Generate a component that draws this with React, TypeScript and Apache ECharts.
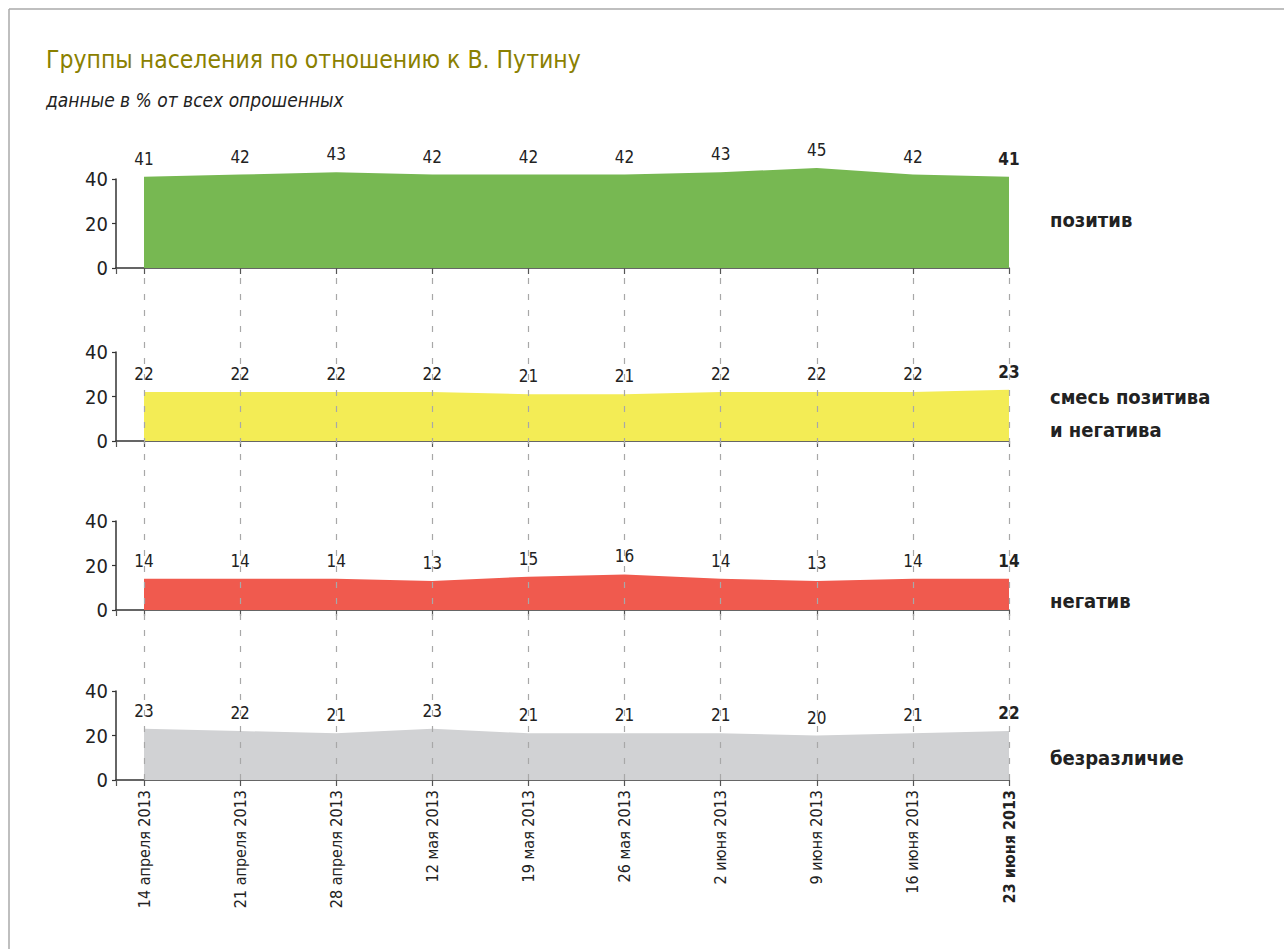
import React, { useEffect, useRef } from "react";
import * as echarts from "echarts";

const dates = [
  "14 апреля 2013", "21 апреля 2013", "28 апреля 2013", "12 мая 2013", "19 мая 2013",
  "26 мая 2013", "2 июня 2013", "9 июня 2013", "16 июня 2013", "23 июня 2013",
];
const positive = [41, 42, 43, 42, 42, 42, 43, 45, 42, 41];
const mixed = [22, 22, 22, 22, 21, 21, 22, 22, 22, 23];
const negative = [14, 14, 14, 13, 15, 16, 14, 13, 14, 14];
const indifferent = [23, 22, 21, 23, 21, 21, 21, 20, 21, 22];
const groupNames = ["позитив", "смесь позитива\nи негатива", "негатив", "безразличие"];
const yTicks = [0, 20, 40];

const TITLE = "Группы населения по отношению к В. Путину";
const SUBTITLE = "данные в % от всех опрошенных";

const NARROW = '"Liberation Sans Narrow", "DejaVu Sans Condensed", "Roboto Condensed", Arial Narrow, sans-serif';
const COLORS = ["#77b852", "#f3ec55", "#f05a4e", "#d1d2d4"];
const XMIN = -0.2914;
const XMAX = 9;

export default function App() {
  const ref = useRef<HTMLDivElement>(null);
  useEffect(() => {
    if (!ref.current) return;
    const chart = echarts.init(ref.current, undefined, { renderer: "svg" });
    const series = [positive, mixed, negative, indifferent];
    const tops = [179, 352, 521, 691];
    const H = 89;
    const idx = dates.map((_, i) => i);

    const grids: any[] = tops.map((t) => ({ left: 116, top: t, width: 893, height: H }));
    grids.push({ left: 116, top: 272, width: 893, height: 508 });

    const xAxes: any[] = tops.map((_, gi) => ({
      type: "value",
      gridIndex: gi,
      min: XMIN,
      max: XMAX,
      axisLine: { show: true, onZero: false, lineStyle: { color: "#333", width: 1.5 } },
      axisTick: { show: true, customValues: [XMIN, ...idx], length: 6, lineStyle: { color: "#555", width: 1.2 } },
      splitLine: { show: false },
      axisLabel: {
        show: gi === 3,
        customValues: idx,
        rotate: 90,
        margin: 10,
        fontSize: 16,
        fontFamily: NARROW,
        color: "#222",
        formatter: (v: number) => {
          const i = Math.round(v);
          return i === dates.length - 1 ? `{b|${dates[i]}}` : dates[i];
        },
        rich: { b: { fontWeight: "bold", fontSize: 16, fontFamily: NARROW, color: "#222" } },
      },
    }));
    xAxes.push({ type: "value", gridIndex: 4, min: XMIN, max: XMAX, show: false });

    const yAxes: any[] = tops.map((_, gi) => ({
      type: "value",
      gridIndex: gi,
      min: yTicks[0],
      max: yTicks[yTicks.length - 1],
      interval: 20,
      axisLine: { show: true, onZero: false, lineStyle: { color: "#333", width: 1.5 } },
      axisTick: { show: true, inside: false, length: 4, lineStyle: { color: "#333", width: 1.2 } },
      splitLine: { show: false },
      axisLabel: { fontSize: 20, fontFamily: NARROW, color: "#222", margin: 8 },
    }));
    yAxes.push({ type: "value", gridIndex: 4, min: 0, max: 1, show: false });

    const seriesList: any[] = series.map((vals, gi) => ({
      type: "line",
      xAxisIndex: gi,
      yAxisIndex: gi,
      clip: false,
      z: 2,
      symbol: "circle",
      symbolSize: 1,
      showSymbol: true,
      itemStyle: { color: "rgba(0,0,0,0)" },
      lineStyle: { width: 0, color: COLORS[gi] },
      areaStyle: { color: COLORS[gi], opacity: 1 },
      label: {
        show: true,
        position: "top",
        distance: 9,
        fontSize: 17,
        fontFamily: NARROW,
        color: "#222",
      },
      data: vals.map((v, i) => ({
        value: [i, v],
        label: i === vals.length - 1 ? { fontWeight: "bold" } : undefined,
      })),
    }));
    seriesList.push({
      type: "line",
      xAxisIndex: 4,
      yAxisIndex: 4,
      z: 10,
      symbol: "none",
      lineStyle: { opacity: 0 },
      data: [[0, 0]],
      silent: true,
      markLine: {
        silent: true,
        symbol: "none",
        label: { show: false },
        lineStyle: { type: [6, 10], color: "#a8a8a8", width: 1.2 },
        data: idx.map((i) => ({ xAxis: i })),
        z: 10,
      },
    });

    const labelY = [220, 413.5, 601, 758];
    const graphic: any[] = [
      { type: "line", shape: { x1: 9, y1: 9, x2: 1284, y2: 9 }, style: { stroke: "#aaa", lineWidth: 1.5 } },
      { type: "line", shape: { x1: 9, y1: 9, x2: 9, y2: 949 }, style: { stroke: "#aaa", lineWidth: 1.5 } },
      {
        type: "text", left: 46, top: 47,
        style: { text: TITLE, fontSize: 24.5, fontFamily: NARROW, fill: "#8a8000" },
      },
      {
        type: "text", left: 46, top: 90,
        style: { text: SUBTITLE, fontSize: 19, fontStyle: "italic", fontFamily: NARROW, fill: "#222" },
      },
    ];
    groupNames.forEach((n, gi) => {
      graphic.push({
        type: "text",
        x: 1050,
        y: labelY[gi],
        style: {
          text: n,
          fontSize: 20,
          fontWeight: "bold",
          fontFamily: NARROW,
          fill: "#222",
          lineHeight: 33,
          verticalAlign: "middle",
        },
      });
    });

    chart.setOption({
      animation: false,
      backgroundColor: "#fff",
      grid: grids,
      xAxis: xAxes,
      yAxis: yAxes,
      series: seriesList,
      graphic,
    });
    return () => chart.dispose();
  }, []);
  return (
    <div
      ref={ref}
      style={{ position: "fixed", left: 0, top: 0, width: 1284, height: 949 }}
    />
  );
}
